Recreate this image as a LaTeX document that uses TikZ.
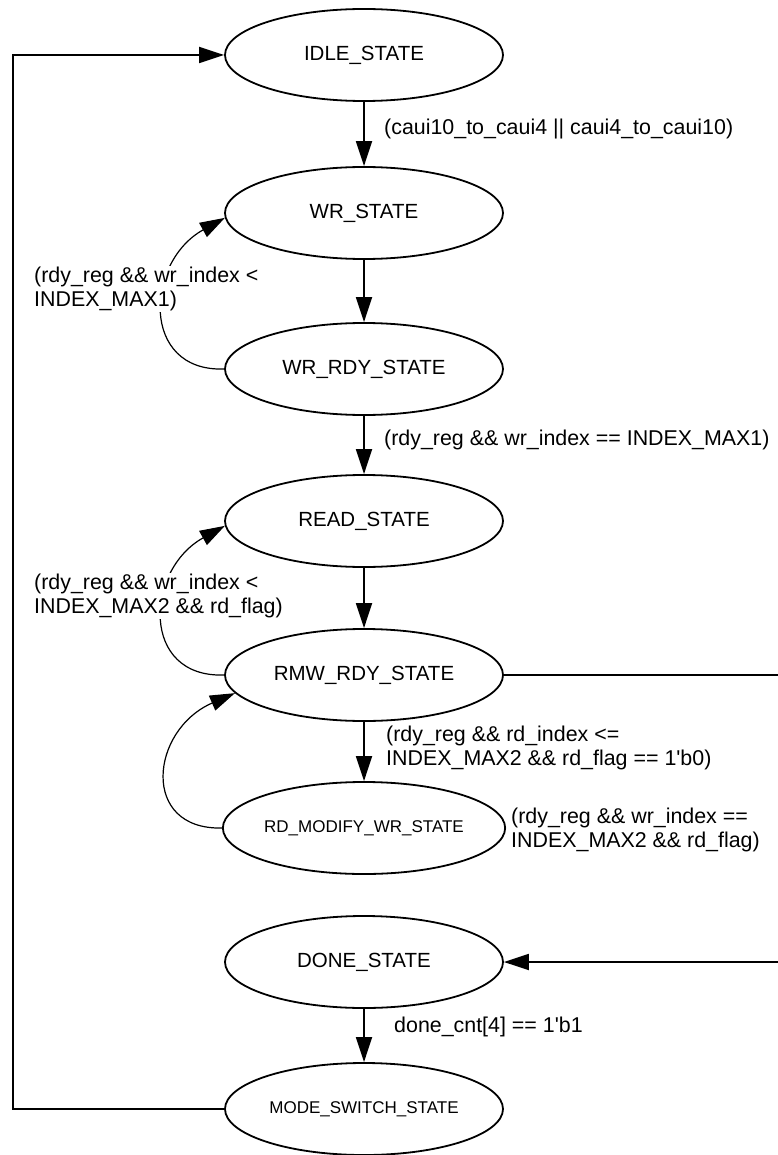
\documentclass[tikz,border=0pt]{standalone}
\usepackage{fontspec}
\setmainfont{Liberation Sans}
\usetikzlibrary{arrows.meta,shapes.geometric}
\begin{document}
\begin{tikzpicture}[x=1pt,y=-1pt,
  state/.style={draw,ellipse,line width=1.8pt,minimum width=278pt,minimum height=92pt,inner sep=0pt,font=\fontsize{20.5}{24}\selectfont},
  smallstate/.style={state,font=\fontsize{17}{20}\selectfont},
  edge/.style={line width=1.8pt,-{Triangle[length=25pt,width=16pt]}},
  loopedge/.style={line width=1.2pt,-{Triangle[length=25pt,width=16pt]}},
  lbl/.style={anchor=west,align=left,inner sep=1pt,font=\fontsize{21.4}{24}\selectfont},
  wlbl/.style={lbl,fill=white}]
\useasboundingbox (0,0) rectangle (777,1155);

\node[state] (idle) at (364,55) {IDLE\_STATE};
\node[state] (wr) at (364,213) {WR\_STATE};
\node[state] (wrrdy) at (364,369) {WR\_RDY\_STATE};
\node[state] (read) at (364,521) {READ\_STATE};
\node[state] (rmw) at (364,675) {RMW\_RDY\_STATE};
\node[smallstate] (rdm) at (364,828) {RD\_MODIFY\_WR\_STATE};
\node[state] (done) at (364,962) {DONE\_STATE};
\node[smallstate] (mode) at (364,1109) {MODE\_SWITCH\_STATE};

\coordinate (lt) at (13,55);
\coordinate (lb) at (13,1109);
\coordinate (rt) at (790,675);
\coordinate (rb) at (790,962);

% straight transitions
\draw[edge] (idle) -- (wr);
\draw[edge] (wr) -- (wrrdy);
\draw[edge] (wrrdy) -- (read);
\draw[edge] (read) -- (rmw);
\draw[edge] (rmw) -- (rdm);
\draw[edge] (done) -- (mode);

% outer loops
\draw[edge] (mode.west) -- (lb) -- (lt) -- (idle.west);
\draw[edge] (rmw.east) -- (rt) -- (rb) -- (done.east);

% back loops
\draw[loopedge] (wrrdy.west) .. controls (140,372) and (145,262) .. (wr.182);
\draw[loopedge] (rmw.west) .. controls (140,678) and (145,570) .. (read.182);
\draw[loopedge] (rdm.west) .. controls (140,830) and (150,730) .. (rmw.188);

% labels
\node[lbl] (l1) at (383,129) {(caui10\_to\_caui4 || caui4\_to\_caui10)};
\node[wlbl] (l2) at (33,289) {(rdy\_reg \&\& wr\_index <\\INDEX\_MAX1)};
\node[lbl] (l3) at (383,440) {(rdy\_reg \&\& wr\_index == INDEX\_MAX1)};
\node[wlbl] (l4) at (33,596) {(rdy\_reg \&\& wr\_index <\\INDEX\_MAX2 \&\& rd\_flag)};
\node[lbl] (l5) at (385,748) {(rdy\_reg \&\& rd\_index <=\\INDEX\_MAX2 \&\& rd\_flag == 1\textquotesingle b0)};
\node[lbl] (l6) at (510,830) {(rdy\_reg \&\& wr\_index ==\\INDEX\_MAX2 \&\& rd\_flag)};
\node[lbl] (l7) at (393,1027) {done\_cnt[4] == 1\textquotesingle b1};
\end{tikzpicture}
\end{document}
